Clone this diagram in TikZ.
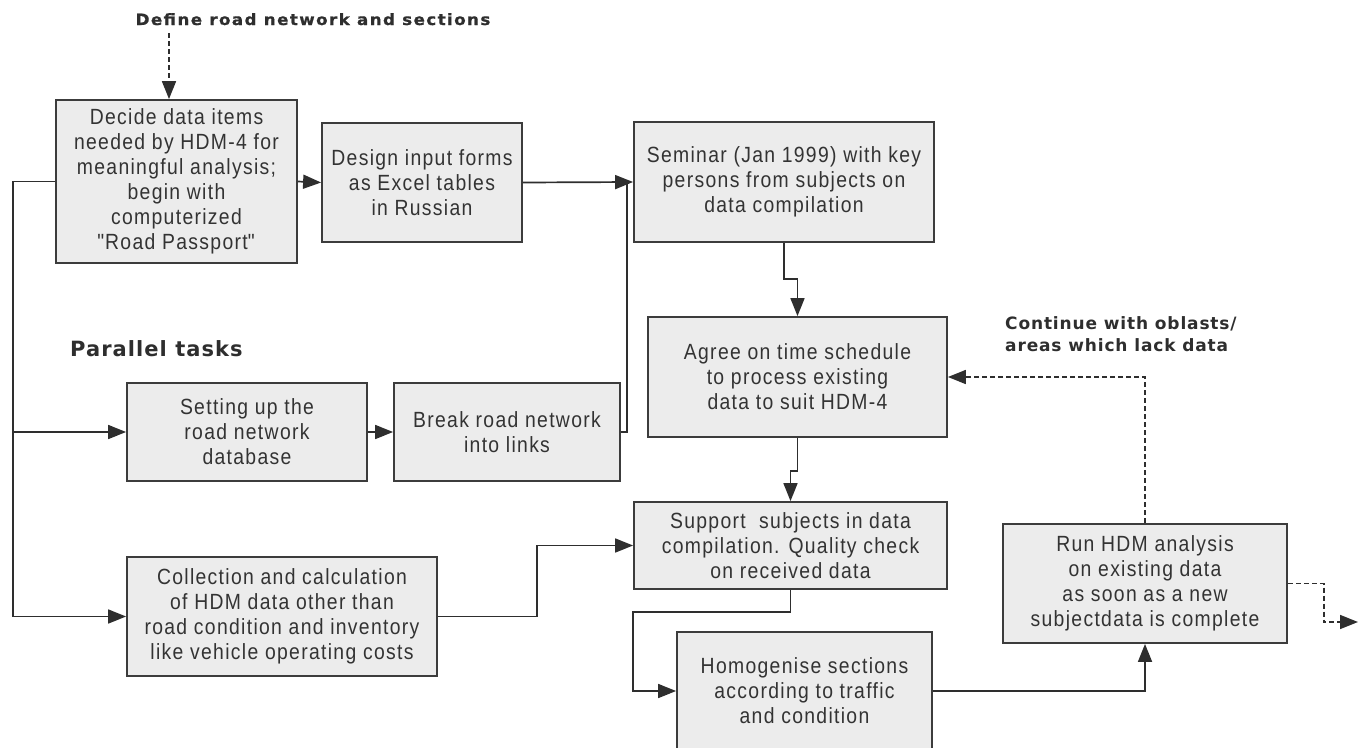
\documentclass[tikz,border=0pt]{standalone}
\usepackage{fontspec}
\setmainfont{Liberation Sans}[FakeStretch=0.88, LetterSpace=6]
\newfontfamily\lblfont{DejaVu Sans}[LetterSpace=5]
\newfontfamily\deffont{DejaVu Sans}[FakeStretch=1.08, LetterSpace=9, FakeBold=0.8]
\usetikzlibrary{arrows.meta,calc}
\definecolor{boxfill}{HTML}{ECECEC}
\definecolor{boxline}{HTML}{3C3C3C}
\definecolor{inkcol}{HTML}{2E2E2E}
\definecolor{txtcol}{HTML}{333333}
\newcommand{\strq}{\XeTeXglyph\XeTeXcharglyph"22\relax}
\tikzset{
  procbox/.style={draw=boxline, line width=1.8pt, fill=boxfill, align=center,
    text=txtcol, inner sep=0pt, font=\fontsize{22}{25}\selectfont},
  tipstyle/.tip={Triangle[length=18pt,width=14pt]},
  conn/.style={draw=inkcol, line width=1.7pt, -tipstyle},
  plainline/.style={draw=inkcol, line width=1.7pt},
  dconn/.style={conn, dash pattern=on 5pt off 3pt},
  lbl/.style={text=inkcol, inner sep=0pt}
}
\begin{document}
\begin{tikzpicture}[x=1pt,y=-1pt]
\useasboundingbox (0,0) rectangle (1364,747);
% boxes
\node[procbox, minimum width=241pt, minimum height=163pt] (A) at (176.5,181.5)
  {Decide data items\\needed by HDM-4 for\\meaningful analysis;\\begin with\\computerized\\\strq Road Passport\strq};
\node[procbox, minimum width=200pt, minimum height=119pt] (B) at (422,182.5)
  {Design input forms\\as Excel tables\\in Russian};
\node[procbox, minimum width=300pt, minimum height=120pt] (C) at (784,182)
  {Seminar (Jan 1999) with key\\persons from subjects on\\data compilation};
\node[procbox, minimum width=299pt, minimum height=120pt] (D) at (797.5,377)
  {Agree on time schedule\\to process existing\\data to suit HDM-4};
\node[procbox, minimum width=240pt, minimum height=98pt] (E) at (247,432)
  {Setting up the\\road network\\database};
\node[procbox, minimum width=226pt, minimum height=98pt] (F) at (507,432)
  {Break road network\\into links};
\node[procbox, minimum width=313pt, minimum height=87pt] (G) at (790.5,545.5)
  {Support~ subjects in data\\compilation. Quality check\\on received data};
\node[procbox, minimum width=284pt, minimum height=119pt] (H) at (1145,583.5)
  {Run HDM analysis\\on existing data\\as soon as a new\\subjectdata is complete};
\node[procbox, minimum width=310pt, minimum height=119pt] (I) at (282,616.5)
  {Collection and calculation\\of HDM data other than\\road condition and inventory\\like vehicle operating costs};
\node[procbox, minimum width=255pt, minimum height=118pt] (J) at (804.5,691)
  {Homogenise sections\\according to traffic\\and condition};
% labels
\node[lbl, font=\deffont\bfseries\fontsize{15.5}{18}\selectfont, anchor=base] (def) at (313,25)
  {Define road network and sections};
\node[lbl, font=\lblfont\bfseries\fontsize{21}{22}\selectfont, anchor=base west] (par) at (70,356)
  {Parallel tasks};
\node[lbl, font=\lblfont\bfseries\fontsize{17}{22}\selectfont, anchor=north west, align=left] (cont) at (1005,316)
  {Continue with oblasts/\\areas which lack data};
% helper coordinates
\coordinate (d0) at (169,33);
\coordinate (tr) at (13,616.5);
\coordinate (tE) at (13,432);
\coordinate (fc) at (627,184);
\coordinate (out) at (1358,622);
% connectors
\draw[dconn] (d0) -- (d0 |- A.north);
\draw[conn] (A.east) -- (B.west);
\draw[conn] (B.east) -- (C.west);
\draw[plainline] (F.east) -| (fc);
\draw[conn] (A.west) -| (tr) -- (I.west);
\draw[conn] (tE) -- (E.west);
\draw[conn] (E.east) -- (F.west);
\draw[conn] (C.south) -- ++(0,36) -| (D.north);
\draw[conn] (D.south) -- ++(0,33) -| (G.north);
\draw[conn] (G.south) -- ++(0,22) -| ($(J.west)+(-43,0)$) -- (J.west);
\draw[conn] (I.east) -- ++(99,0) |- (G.west);
\draw[conn] (J.east) -| (H.south);
\draw[dconn] (H.north) |- (D.east);
\draw[dconn] (H.east) -- ++(36,0) |- (out);
\end{tikzpicture}
\end{document}
